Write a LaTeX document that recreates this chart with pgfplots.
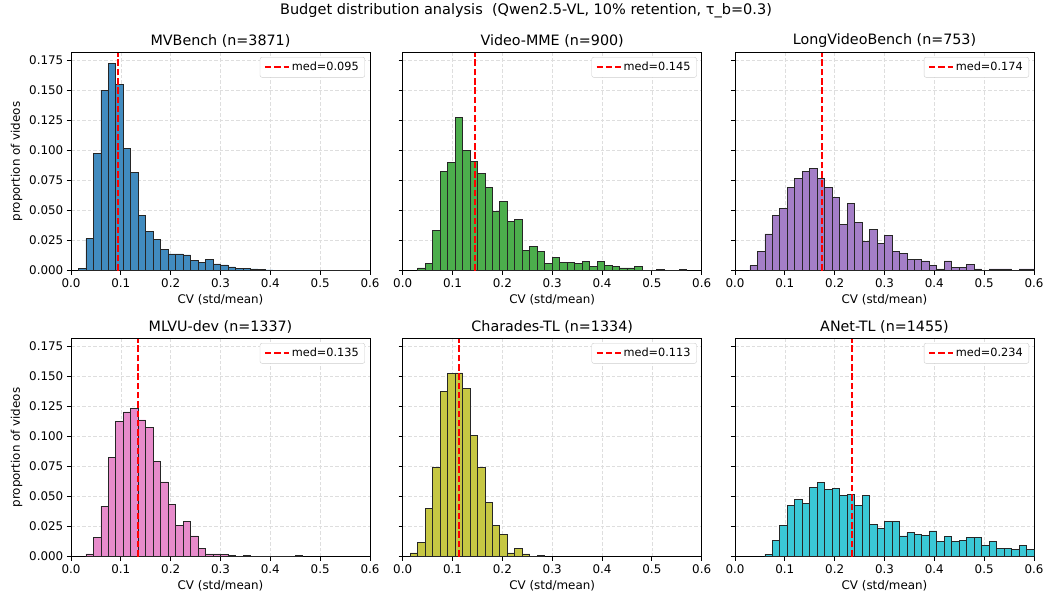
\documentclass[border=0pt]{standalone}
\usepackage{fontspec}
\setmainfont{DejaVu Sans}
\usepackage{pgfplots}
\usepackage{pgfplotstable}
\pgfplotsset{compat=1.18}
\definecolor{c1}{HTML}{1F77B4}
\definecolor{c2}{HTML}{2CA02C}
\definecolor{c3}{HTML}{9467BD}
\definecolor{c4}{HTML}{E377C2}
\definecolor{c5}{HTML}{BCBD22}
\definecolor{c6}{HTML}{17BECF}
\definecolor{medred}{HTML}{FF0000}

\pgfplotstableread{
x y
0.015 0.0020
0.030 0.0266
0.045 0.0977
0.060 0.1500
0.075 0.1728
0.090 0.1550
0.105 0.1013
0.120 0.0814
0.135 0.0457
0.150 0.0327
0.165 0.0260
0.180 0.0174
0.195 0.0138
0.210 0.0138
0.225 0.0130
0.240 0.0083
0.255 0.0064
0.270 0.0094
0.285 0.0055
0.300 0.0047
0.315 0.0030
0.330 0.0020
0.345 0.0015
0.360 0.0013
0.375 0.0010
0.390 0.0005
0.405 0.0
0.420 0.0003
0.435 0.0003
0.450 0.0
0.465 0.0
0.480 0.0
0.495 0.0
0.510 0.0
0.525 0.0
0.540 0.0
0.555 0.0003
0.570 0.0
0.585 0.0003
0.600 0.0
}\tA

\pgfplotstableread{
x y
0.030 0.0022
0.045 0.0056
0.060 0.0333
0.075 0.0822
0.090 0.0900
0.105 0.1278
0.120 0.1000
0.135 0.0911
0.150 0.0811
0.165 0.0689
0.180 0.0489
0.195 0.0578
0.210 0.0411
0.225 0.0422
0.240 0.0167
0.255 0.0200
0.270 0.0156
0.285 0.0056
0.300 0.0111
0.315 0.0067
0.330 0.0067
0.345 0.0056
0.360 0.0078
0.375 0.0033
0.390 0.0078
0.405 0.0044
0.420 0.0033
0.435 0.0022
0.450 0.0022
0.465 0.0033
0.480 0.0
0.495 0.0
0.510 0.0011
0.525 0.0
0.540 0.0
0.555 0.0011
0.570 0.0
}\tB

\pgfplotstableread{
x y
0.030 0.0040
0.045 0.0159
0.060 0.0305
0.075 0.0458
0.090 0.0518
0.105 0.0691
0.120 0.0770
0.135 0.0823
0.150 0.0850
0.165 0.0770
0.180 0.0691
0.195 0.0611
0.210 0.0385
0.225 0.0558
0.240 0.0398
0.255 0.0239
0.270 0.0345
0.285 0.0226
0.300 0.0292
0.315 0.0159
0.330 0.0146
0.345 0.0093
0.360 0.0093
0.375 0.0080
0.390 0.0040
0.405 0.0013
0.420 0.0080
0.435 0.0027
0.450 0.0027
0.465 0.0053
0.480 0.0013
0.495 0.0
0.510 0.0013
0.525 0.0013
0.540 0.0013
0.555 0.0
0.570 0.0013
0.585 0.0013
0.600 0.0
}\tC

\pgfplotstableread{
x y
0.030 0.0022
0.045 0.0157
0.060 0.0419
0.075 0.0823
0.090 0.1122
0.105 0.1204
0.120 0.1234
0.135 0.1137
0.150 0.1077
0.165 0.0793
0.180 0.0621
0.195 0.0434
0.210 0.0262
0.225 0.0292
0.240 0.0172
0.255 0.0067
0.270 0.0022
0.285 0.0022
0.300 0.0015
0.315 0.0007
0.330 0.0
0.345 0.0007
0.360 0.0
0.375 0.0
0.390 0.0
0.405 0.0
0.420 0.0
0.435 0.0
0.450 0.0007
0.465 0.0
}\tD

\pgfplotstableread{
x y
0.015 0.0030
0.030 0.0120
0.045 0.0397
0.060 0.0742
0.075 0.1372
0.090 0.1522
0.105 0.1529
0.120 0.1402
0.135 0.1012
0.150 0.0742
0.165 0.0450
0.180 0.0262
0.195 0.0187
0.210 0.0030
0.225 0.0067
0.240 0.0022
0.255 0.0
0.270 0.0007
0.285 0.0
}\tE

\pgfplotstableread{
x y
0.060 0.0021
0.075 0.0137
0.090 0.0261
0.105 0.0426
0.120 0.0474
0.135 0.0440
0.150 0.0577
0.165 0.0619
0.180 0.0557
0.195 0.0570
0.210 0.0509
0.225 0.0515
0.240 0.0426
0.255 0.0509
0.270 0.0268
0.285 0.0234
0.300 0.0289
0.315 0.0289
0.330 0.0172
0.345 0.0199
0.360 0.0186
0.375 0.0179
0.390 0.0213
0.405 0.0124
0.420 0.0165
0.435 0.0124
0.450 0.0131
0.465 0.0158
0.480 0.0158
0.495 0.0089
0.510 0.0124
0.525 0.0069
0.540 0.0069
0.555 0.0062
0.570 0.0089
0.585 0.0062
0.600 0.0
}\tF

\pgfplotsset{
  histo/.style={
    set layers,
    scale only axis, width=299pt, height=218pt,
    xmin=0, xmax=0.6, ymin=0, ymax=0.1815,
    xtick={0,0.1,0.2,0.3,0.4,0.5,0.6},
    ytick={0,0.025,0.05,0.075,0.1,0.125,0.15,0.175},
    scaled ticks=false,
    /pgf/number format/assume math mode=true,
    xticklabel style={/pgf/number format/.cd, fixed, fixed zerofill, precision=1},
    yticklabel style={/pgf/number format/.cd, fixed, fixed zerofill, precision=3},
    tick label style={font=\fontsize{11.9}{14}\selectfont},
    label style={font=\fontsize{11.9}{14}\selectfont},
    title style={font=\fontsize{14.3}{17}\selectfont, yshift=-4.5pt},
    xlabel={CV (std/mean)},
    grid=major,
    major grid style={black!13, line width=0.6pt, dash pattern=on 3.5pt off 2pt},
    tick align=outside, tick pos=left,
    major tick length=4.2pt,
    tick style={black, line width=0.8pt},
    axis line style={black, line width=0.8pt},
    legend style={at={(1,1)}, anchor=north east, xshift=-5pt, yshift=-4.5pt,
      draw=black!20, rounded corners=2pt, fill=white,
      font=\fontsize{11.3}{13}\selectfont, inner xsep=4pt, inner ysep=3pt},
    legend cell align=left,
    legend image code/.code={\draw[#1] (0pt,0pt) -- (24pt,0pt);},
  },
  bars/.style={ybar interval, fill=#1!85!white, draw=black!85, line width=0.8pt, forget plot},
  med/.style={on layer=axis foreground, color=medred, line width=1.8pt, dash pattern=on 6.5pt off 2.8pt, mark=none},
}

\begin{document}
\begin{tikzpicture}
\begin{axis}[histo, at={(71pt,-270pt)}, anchor=south west,
  title={MVBench (n=3871)}, ylabel={proportion of videos}]
\addplot[bars=c1] table {\tA};
\addplot[med] coordinates {(0.095,0) (0.095,0.1815)};
\addlegendentry{med=0.095}
\end{axis}

\begin{axis}[histo, at={(402.7pt,-270pt)}, anchor=south west,
  title={Video-MME (n=900)}, yticklabels={}]
\addplot[bars=c2] table {\tB};
\addplot[med] coordinates {(0.145,0) (0.145,0.1815)};
\addlegendentry{med=0.145}
\end{axis}

\begin{axis}[histo, at={(735pt,-270pt)}, anchor=south west,
  title={LongVideoBench (n=753)}, yticklabels={}]
\addplot[bars=c3] table {\tC};
\addplot[med] coordinates {(0.174,0) (0.174,0.1815)};
\addlegendentry{med=0.174}
\end{axis}

\begin{axis}[histo, at={(71pt,-556pt)}, anchor=south west,
  title={MLVU-dev (n=1337)}, ylabel={proportion of videos}]
\addplot[bars=c4] table {\tD};
\addplot[med] coordinates {(0.135,0) (0.135,0.1815)};
\addlegendentry{med=0.135}
\end{axis}

\begin{axis}[histo, at={(402.7pt,-556pt)}, anchor=south west,
  title={Charades-TL (n=1334)}, yticklabels={}]
\addplot[bars=c5] table {\tE};
\addplot[med] coordinates {(0.113,0) (0.113,0.1815)};
\addlegendentry{med=0.113}
\end{axis}

\begin{axis}[histo, at={(735pt,-556pt)}, anchor=south west,
  title={ANet-TL (n=1455)}, yticklabels={}]
\addplot[bars=c6] table {\tF};
\addplot[med] coordinates {(0.2342,0) (0.2342,0.1815)};
\addlegendentry{med=0.234}
\end{axis}

\node[font=\fontsize{14.5}{17}\selectfont] at (526pt,-10pt) {Budget distribution analysis\ \ (Qwen2.5-VL, 10\% retention, τ\_b=0.3)};
\path (0pt,0pt) rectangle (1047pt,-600pt);
\end{tikzpicture}
\end{document}
